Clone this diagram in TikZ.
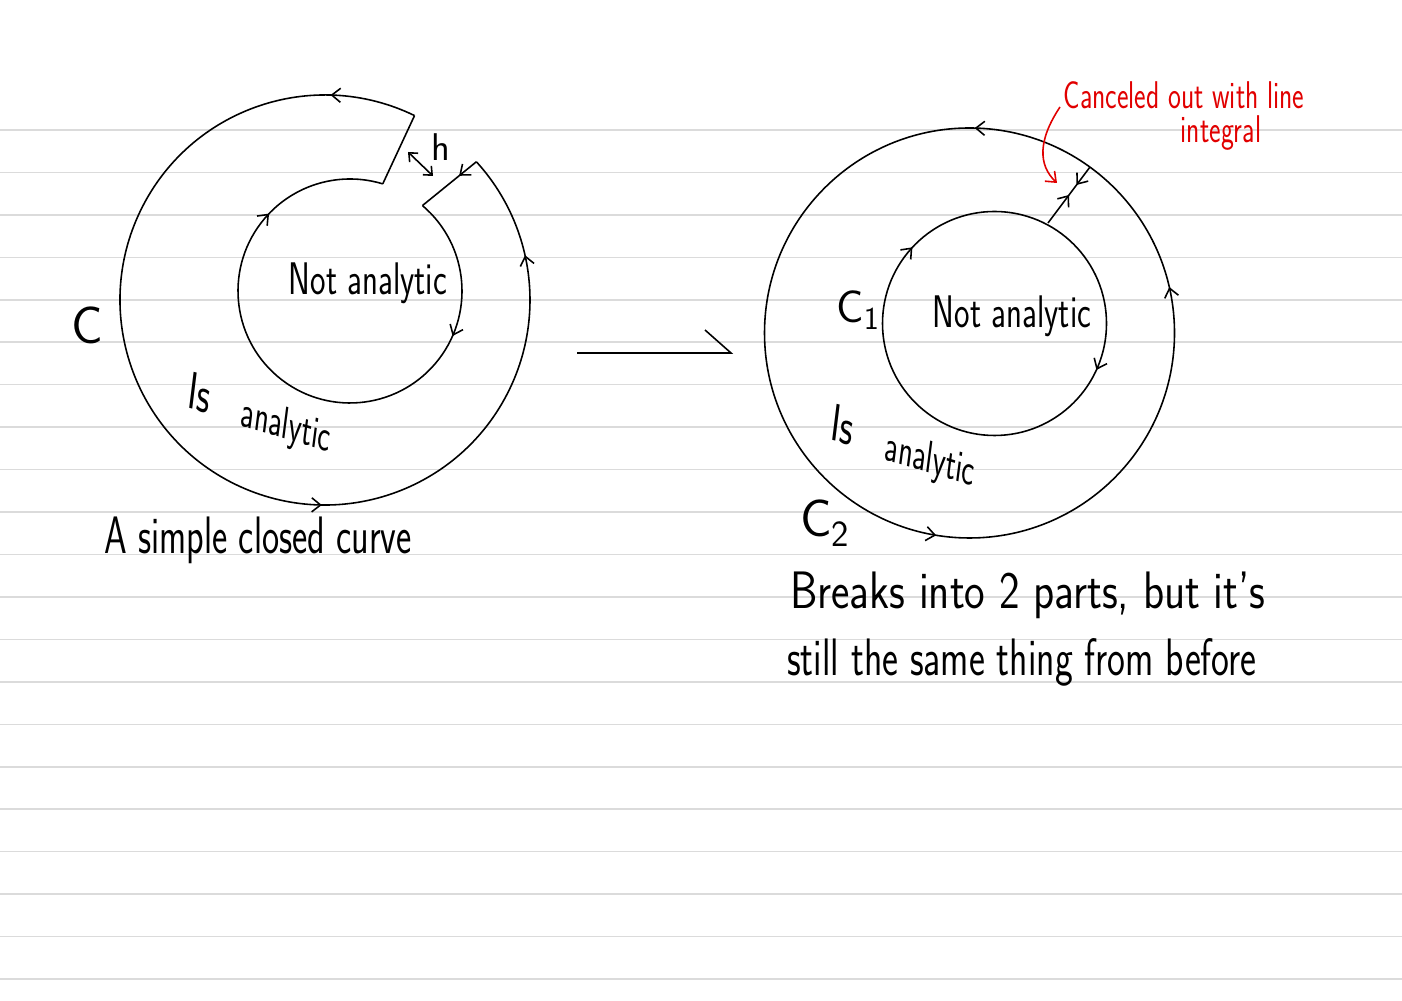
\documentclass[tikz,border=0pt]{standalone}
\usepackage{tikz}
\usetikzlibrary{arrows.meta}
\usetikzlibrary{decorations.markings}
\definecolor{inkred}{RGB}{225,0,0}
\tikzset{
  barb/.tip={Straight Barb[length=5pt,width=8pt]},
  pen/.style={line width=0.9pt},
  ruling/.style={draw=black!14, line width=0.9pt},
  hand/.style={font=\sffamily\fontsize{#1}{#1}\selectfont, inner sep=0pt},
  flows/.style={postaction={decorate}, decoration={markings, #1}}
}

\begin{document}
\begin{tikzpicture}[x=0.02cm,y=0.02cm]
\useasboundingbox (0,0) rectangle (1402,1000);
% ruled paper
\foreach \k in {0,...,20}
  \draw[ruling] (0,{870-42.45*\k}) -- (1402,{870-42.45*\k});
% left: curve with a cut
\coordinate (lo) at (325,700);
\coordinate (li) at (350,709);
\coordinate (lin1) at ([shift={(73:112)}]li);
\coordinate (lout1) at ([shift={(64.1:205)}]lo);
\coordinate (lout2) at ([shift={(42.4:205)}]lo);
\coordinate (lin2) at ([shift={(49.7:112)}]li);
\draw[pen] (lin1) -- (lout1);
\draw[pen, flows={mark=at position 0.072 with {\arrow{barb}},
  mark=at position 0.606 with {\arrow{barb}},
  mark=at position 0.912 with {\arrow{barb}}}]
  (lout1) arc[start angle=64.1, end angle=402.4, radius=205];
\draw[pen, flows={mark=at position 0.32 with {\arrow{barb}}}] (lout2) -- (lin2);
\draw[pen, flows={mark=at position 0.218 with {\arrow{barb}},
  mark=at position 0.812 with {\arrow{barb}}}]
  (lin2) arc[start angle=49.7, end angle=-287, radius=112];
\coordinate (h1) at (408,848);
\coordinate (h2) at (433,824);
\draw[pen, {Straight Barb[length=4pt,width=7pt]}-{Straight Barb[length=4pt,width=7pt]}] (h1) -- (h2);
\node[hand=22] (hlab) at (441,853) {h};
\node[hand=26, xscale=0.72] (lnot) at (368,717) {Not analytic};
\node[hand=30, xscale=0.7, rotate=-10] (lis) at (200,607) {Is};
\node[hand=26, xscale=0.66, rotate=-11] (lana) at (286,572) {analytic};
\node[hand=30] (lc) at (87,675) {C};
\node[hand=30, xscale=0.69] (lcap) at (258,460) {A simple closed curve};
% arrow between
\coordinate (m1) at (577,647);
\coordinate (m2) at (731,647);
\coordinate (m3) at (705,670);
\draw[pen] (m1) -- (m2) -- (m3);
% right: two circles
\coordinate (ro) at (969.5,667);
\coordinate (ri) at (994.5,676.5);
\draw[pen, flows={mark=at position 0.036 with {\arrow{barb}},
  mark=at position 0.246 with {\arrow{barb}},
  mark=at position 0.724 with {\arrow{barb}}}]
  ([shift={(0:205)}]ro) arc[start angle=0, end angle=360, radius=205];
\draw[pen, flows={mark=at position 0.068 with {\arrow{barb}},
  mark=at position 0.619 with {\arrow{barb}}}]
  ([shift={(0:112)}]ri) arc[start angle=0, end angle=-360, radius=112];
\coordinate (rin) at (1048,777);
\coordinate (rout) at (1090,833);
\draw[pen, flows={mark=at position 0.5 with {\arrow{barb}},
  mark=at position 0.68 with {\arrowreversed{barb}}}] (rin) -- (rout);
\node[hand=26, xscale=0.72] (rnot) at (1012,684) {Not analytic};
\node[hand=26] (rc1) at (858,690) {C\textsubscript{1}};
\node[hand=30, xscale=0.7, rotate=-10] (ris) at (843,575) {Is};
\node[hand=26, xscale=0.66, rotate=-11] (rana) at (930,538) {analytic};
\node[hand=30] (rc2) at (825,477) {C\textsubscript{2}};
\node[hand=30, xscale=0.83] (rl1) at (1028,405) {Breaks into 2 parts, but it's};
\node[hand=30, xscale=0.72] (rl2) at (1022,338) {still the same thing from before};
% red note
\node[hand=22, xscale=0.71, text=inkred] (note1) at (1184,905) {Canceled out with line};
\node[hand=22, xscale=0.71, text=inkred] (note2) at (1221,867) {integral};
\coordinate (n1) at (1060,893);
\coordinate (n2) at (1057,817);
\draw[pen, inkred, -{barb}] (n1) .. controls (1038,860) and (1038,835) .. (n2);
\end{tikzpicture}
\end{document}
